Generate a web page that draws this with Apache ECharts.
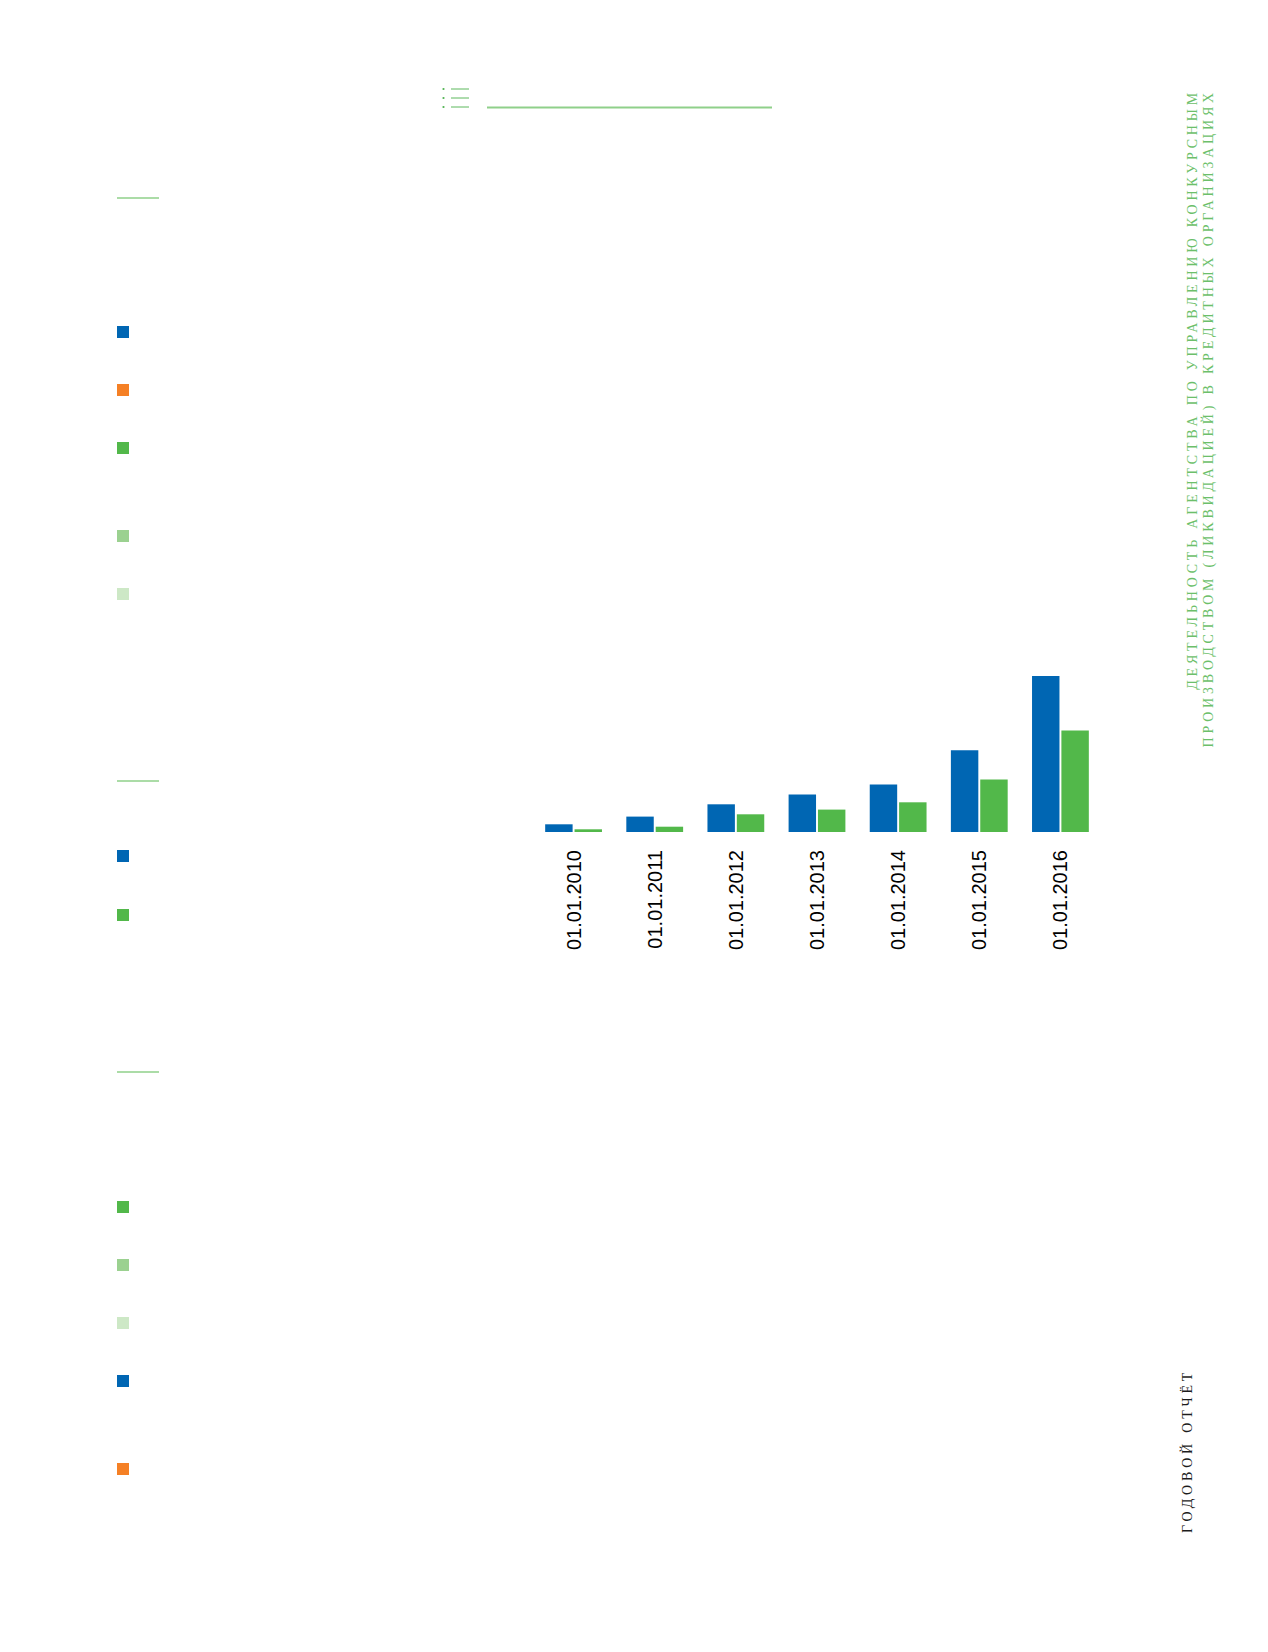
<!DOCTYPE html>
<html>
<head>
<meta charset="utf-8">
<script src="https://cdn.jsdelivr.net/npm/echarts@6/dist/echarts.min.js"></script>
<style>
  html, body { margin: 0; padding: 0; background: #ffffff; }
  #chart { width: 1268px; height: 1652px; }
  #chart text[style*="Serif"], #chart text[fill="#6cbf6a"], #chart text[fill="#1c1c1c"] { letter-spacing: 3.8px; }
</style>
</head>
<body>
<div id="chart"></div>
<script>
const categories = ['01.01.2010', '01.01.2011', '01.01.2012', '01.01.2013', '01.01.2014', '01.01.2015', '01.01.2016'];
const blueValues = [7.7, 15.4, 27.7, 37.4, 47.4, 81.8, 156];
const greenValues = [2.7, 5.3, 17.7, 22.4, 29.7, 52.4, 101.5];
const sideTitleLines = ['ДЕЯТЕЛЬНОСТЬ АГЕНТСТВА ПО УПРАВЛЕНИЮ КОНКУРСНЫМ', 'ПРОИЗВОДСТВОМ (ЛИКВИДАЦИЕЙ) В КРЕДИТНЫХ ОРГАНИЗАЦИЯХ'];
const footerText = 'ГОДОВОЙ ОТЧЁТ';

const BLUE = '#0066b3';
const GREEN = '#52b84a';
const ORANGE = '#f58025';
const LIGHT1 = '#9bd190';
const LIGHT2 = '#cde8c6';
const LINE_GREEN = '#8fd08a';

const squares = [
  [326, BLUE], [384, ORANGE], [442, GREEN], [530, LIGHT1], [588, LIGHT2],
  [850, BLUE], [909, GREEN],
  [1201, GREEN], [1259, LIGHT1], [1317, LIGHT2], [1375, BLUE], [1463, ORANGE]
];
const leftRules = [198, 781, 1072];

const graphics = [];
squares.forEach(function (s) {
  graphics.push({ type: 'rect', shape: { x: 117, y: s[0], width: 12, height: 12 }, style: { fill: s[1] }, silent: true });
});
leftRules.forEach(function (y) {
  graphics.push({ type: 'line', shape: { x1: 117, y1: y, x2: 159, y2: y }, style: { stroke: LINE_GREEN, lineWidth: 1.5 }, silent: true });
});
// list icon and rule at top
[89, 98, 107].forEach(function (y) {
  graphics.push({ type: 'circle', shape: { cx: 443.5, cy: y, r: 1.1 }, style: { fill: '#5cb85c' }, silent: true });
  graphics.push({ type: 'line', shape: { x1: 451, y1: y, x2: 469, y2: y }, style: { stroke: '#5cb85c', lineWidth: 1 }, silent: true });
});
graphics.push({ type: 'line', shape: { x1: 487, y1: 107.5, x2: 772, y2: 107.5 }, style: { stroke: LINE_GREEN, lineWidth: 2 }, silent: true });
// vertical side texts
graphics.push({ type: 'text', x: 1192, y: 89, rotation: Math.PI / 2, silent: true,
  style: { text: sideTitleLines[0], font: '14px "Liberation Serif"', fill: '#6cbf6a', align: 'right', verticalAlign: 'middle' } });
graphics.push({ type: 'text', x: 1208.5, y: 89, rotation: Math.PI / 2, silent: true,
  style: { text: sideTitleLines[1], font: '14px "Liberation Serif"', fill: '#6cbf6a', align: 'right', verticalAlign: 'middle' } });
graphics.push({ type: 'text', x: 1187.5, y: 1533, rotation: Math.PI / 2, silent: true,
  style: { text: footerText, font: '14px "Liberation Serif"', fill: '#1c1c1c', align: 'left', verticalAlign: 'middle' } });

const chart = echarts.init(document.getElementById('chart'), null, { renderer: 'svg', width: 1268, height: 1652 });
chart.setOption({
  backgroundColor: '#ffffff',
  animation: false,
  grid: { left: 533, right: 167, top: 672, bottom: 820 },
  xAxis: {
    type: 'category',
    data: categories,
    axisLine: { show: false },
    axisTick: { show: false },
    axisLabel: { rotate: 90, margin: 18, fontSize: 20, fontFamily: '"Liberation Sans", Arial, sans-serif', color: '#000000', interval: 0 }
  },
  yAxis: {
    type: 'value', min: 0, max: 160, show: false,
    splitLine: { show: false }
  },
  series: [
    { type: 'bar', data: blueValues, barGap: '7%', barCategoryGap: '30%', itemStyle: { color: BLUE } },
    { type: 'bar', data: greenValues, barGap: '7%', barCategoryGap: '30%', itemStyle: { color: GREEN } }
  ],
  graphic: graphics
});
</script>
</body>
</html>
